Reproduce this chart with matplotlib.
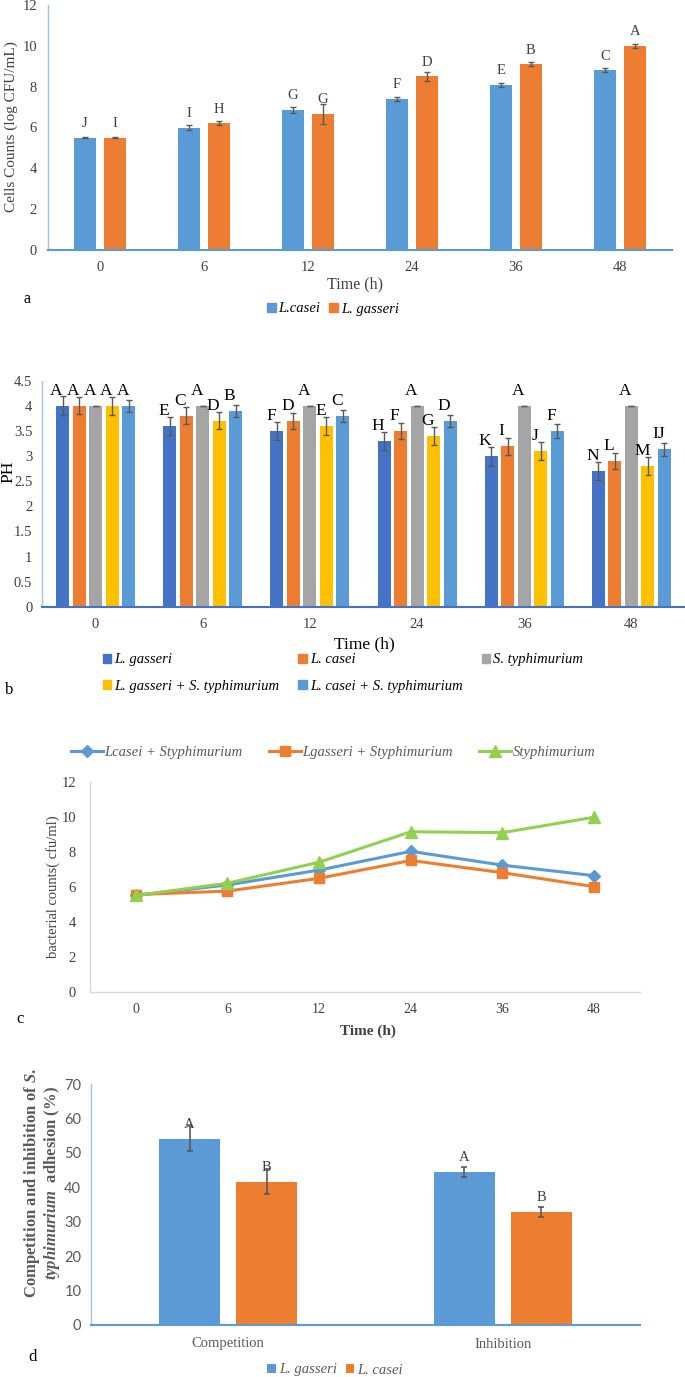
import numpy as np
import matplotlib
matplotlib.use('Agg')
from matplotlib import pyplot as plt
from matplotlib.patches import Patch

plt.rcParams['font.family'] = ['Liberation Serif', 'DejaVu Serif']
plt.rcParams['mathtext.fontset'] = 'custom'
plt.rcParams['mathtext.it'] = 'Liberation Serif:italic:bold'
plt.rcParams['mathtext.rm'] = 'Liberation Serif:bold'

#--- panel a data (cell counts, log CFU/mL)
times = ['0', '6', '12', '24', '36', '48']
casei_a = [5.5, 6.0, 6.87, 7.4, 8.1, 8.8]
casei_a_err = [0.02, 0.1, 0.15, 0.1, 0.1, 0.1]
casei_a_lab = ['J', 'I', 'G', 'F', 'E', 'C']
gasseri_a = [5.5, 6.2, 6.67, 8.5, 9.1, 10.0]
gasseri_a_err = [0.02, 0.1, 0.5, 0.2, 0.1, 0.1]
gasseri_a_lab = ['I', 'H', 'G', 'D', 'B', 'A']

#--- panel b data (pH)
ph_names = ['L. gasseri', 'L. casei', 'S. typhimurium',
            'L. gasseri + S. typhimurium', 'L. casei + S. typhimurium']
ph_gasseri = [4.0, 3.6, 3.5, 3.3, 3.0, 2.7]
ph_casei = [4.0, 3.8, 3.7, 3.5, 3.2, 2.9]
ph_styph = [4.0, 4.0, 4.0, 4.0, 4.0, 4.0]
ph_gasseri_st = [4.0, 3.7, 3.6, 3.4, 3.1, 2.8]
ph_casei_st = [4.0, 3.9, 3.8, 3.7, 3.5, 3.14]
ph_gasseri_err = [0.19, 0.18, 0.18, 0.18, 0.19, 0.18]
ph_casei_err = [0.17, 0.17, 0.16, 0.16, 0.17, 0.16]
ph_styph_err = [0.0, 0.0, 0.0, 0.0, 0.0, 0.0]
ph_gasseri_st_err = [0.18, 0.17, 0.17, 0.17, 0.18, 0.18]
ph_casei_st_err = [0.12, 0.12, 0.12, 0.12, 0.13, 0.13]
ph_gasseri_lab = ['A', 'E', 'F', 'H', 'K', 'N']
ph_casei_lab = ['A', 'C', 'D', 'F', 'I', 'L']
ph_styph_lab = ['A', 'A', 'A', 'A', 'A', 'A']
ph_gasseri_st_lab = ['A', 'D', 'E', 'G', 'J', 'M']
ph_casei_st_lab = ['A', 'B', 'C', 'D', 'F', 'IJ']

#--- panel c data (bacterial counts)
c_casei_st = [5.5, 6.1, 6.95, 8.02, 7.23, 6.63]
c_gasseri_st = [5.55, 5.75, 6.48, 7.5, 6.8, 6.0]
c_styph = [5.5, 6.2, 7.4, 9.14, 9.09, 9.97]

#--- panel d data (competition / inhibition %)
d_groups = ['Competition', 'Inhibition']
d_gasseri = [54.1, 44.5]
d_gasseri_err = [3.7, 1.45]
d_gasseri_lab = ['A', 'A']
d_casei = [41.6, 32.9]
d_casei_err = [3.6, 1.45]
d_casei_lab = ['B', 'B']

BLUE = '#5B9BD5'
ORANGE = '#ED7D31'
DBLUE = '#4472C4'
GRAY = '#A5A5A5'
YELLOW = '#FFC000'
GREEN = '#92D050'
ERR = '#595959'
TXT = '#404040'

W, H = 685, 1377
fig = plt.figure(figsize=(W/100, H/100), dpi=100)


def px_axes(l, t, r, b):
    return fig.add_axes([l/W, 1 - b/H, (r - l)/W, (b - t)/H])


def ftext(x, y, s, **kw):
    fig.text(x/W, 1 - y/H, s, **kw)


def style_axes(ax, left_col, bottom_col, lw=1.5):
    ax.spines['top'].set_visible(False)
    ax.spines['right'].set_visible(False)
    ax.spines['left'].set_color(left_col)
    ax.spines['bottom'].set_color(bottom_col)
    ax.spines['left'].set_linewidth(1.0)
    ax.spines['bottom'].set_linewidth(lw)
    ax.tick_params(length=0)


def letters(ax, xs, ys, labs, dx=0, dy=14, size=10.5, color=TXT):
    for x, y, s in zip(xs, ys, labs):
        ax.annotate(s, (x, y), xytext=(dx, dy), textcoords='offset pixels',
                    ha='center', va='center', fontsize=size, color=color)


x = np.arange(len(times))

#=========== panel a
ax = px_axes(48, 5, 672, 250)
w = 0.22
off = 0.144
ax.bar(x - off, casei_a, w, color=BLUE, yerr=casei_a_err, capsize=2.5,
       error_kw=dict(ecolor=ERR, elinewidth=1, capthick=1))
ax.bar(x + off, gasseri_a, w, color=ORANGE, yerr=gasseri_a_err, capsize=2.5,
       error_kw=dict(ecolor=ERR, elinewidth=1, capthick=1))
letters(ax, x - off, casei_a, casei_a_lab)
letters(ax, x + off, gasseri_a, gasseri_a_lab)
ax.set_xlim(-0.5, 5.5)
ax.set_ylim(0, 12)
ax.set_yticks(np.arange(0, 13, 2))
ax.set_xticks(x, times)
style_axes(ax, '#9DC3E6', BLUE)
ax.tick_params(axis='y', pad=8, labelsize=10.5, labelcolor=TXT)
ax.tick_params(axis='x', pad=8, labelsize=10.5, labelcolor=TXT)
ftext(11, 127, 'Cells Counts (log CFU/mL)', rotation=90, ha='center',
      va='center', fontsize=11, color=TXT)
ftext(355, 284, 'Time (h)', ha='center', va='center', fontsize=11.5, color=TXT)
ftext(27, 299, 'a', ha='center', va='center', fontsize=11.5)
fig.legend([Patch(color=BLUE), Patch(color=ORANGE)], ['L.casei', 'L. gasseri'],
           loc='center', bbox_to_anchor=(333/W, 1 - 309/H), ncol=2, frameon=False,
           handlelength=0.6, handleheight=0.6, handletextpad=0.2, columnspacing=0.6,
           prop=dict(style='italic', size=10.5))

#=========== panel b
ax = px_axes(42, 380.8, 685, 606.7)
series_b = [ph_gasseri, ph_casei, ph_styph, ph_gasseri_st, ph_casei_st]
errs_b = [ph_gasseri_err, ph_casei_err, ph_styph_err, ph_gasseri_st_err, ph_casei_st_err]
labs_b = [ph_gasseri_lab, ph_casei_lab, ph_styph_lab, ph_gasseri_st_lab, ph_casei_st_lab]
cols_b = [DBLUE, ORANGE, GRAY, YELLOW, BLUE]
pitch = 0.154
handles_b = []
for i in range(5):
    xs = x + (i - 2)*pitch
    ax.bar(xs, series_b[i], 0.121, color=cols_b[i], yerr=errs_b[i], capsize=2.5,
           error_kw=dict(ecolor=ERR, elinewidth=1, capthick=1))
    letters(ax, xs, series_b[i], labs_b[i], dx=-6, dy=15, size=12.5, color='black')
    handles_b.append(Patch(color=cols_b[i]))
ax.set_xlim(-0.5, 5.5)
ax.set_ylim(0, 4.5)
ax.set_yticks(np.arange(0, 4.6, 0.5), ['0', '0.5', '1', '1.5', '2', '2.5', '3', '3.5', '4', '4.5'])
ax.set_xticks(x, times)
style_axes(ax, '#9DC3E6', DBLUE)
ax.tick_params(axis='y', pad=7, labelsize=10.5, labelcolor=TXT)
ax.tick_params(axis='x', pad=8, labelsize=10.5, labelcolor=TXT)
ftext(8, 472, 'PH', rotation=90, ha='center', va='center', fontsize=12.5)
ftext(364, 644, 'Time (h)', ha='center', va='center', fontsize=12.5)
ftext(9, 690, 'b', ha='center', va='center', fontsize=12)
order = [0, 3, 1, 4, 2]
fig.legend([handles_b[k] for k in order], [ph_names[k] for k in order],
           loc='center', bbox_to_anchor=(343/W, 1 - 673/H), ncol=3, frameon=False,
           handlelength=0.6, handleheight=0.6, handletextpad=0.2, columnspacing=1.3,
           labelspacing=0.9, prop=dict(style='italic', size=10.5))

#=========== panel c
ax = px_axes(90, 781.7, 640, 991.7)
ax.plot(x, c_casei_st, color=BLUE, lw=2.2, marker='D', ms=6, label='Lcasei + Styphimurium')
ax.plot(x, c_gasseri_st, color=ORANGE, lw=2.2, marker='s', ms=7, label='Lgasseri + Styphimurium')
ax.plot(x, c_styph, color=GREEN, lw=2.2, marker='^', ms=8, label='Styphimurium')
ax.set_xlim(-0.5, 5.5)
ax.set_ylim(0, 12)
ax.set_yticks(np.arange(0, 13, 2))
ax.set_xticks(x, times)
style_axes(ax, '#D9D9D9', '#D9D9D9', lw=1.0)
ax.tick_params(axis='y', pad=10, labelsize=10.5, labelcolor=TXT)
ax.tick_params(axis='x', pad=8, labelsize=10, labelcolor=TXT)
ftext(53, 887, 'bacterial counts( cfu/ml)', rotation=90, ha='center', va='center',
      fontsize=10.5, color=TXT)
ftext(368, 1031, 'Time (h)', ha='center', va='center', fontsize=11, weight='bold', color=TXT)
ftext(20, 1019, 'c', ha='center', va='center', fontsize=12)
fig.legend(*ax.get_legend_handles_labels(), loc='center',
           bbox_to_anchor=(333/W, 1 - 752/H), ncol=3, frameon=False,
           handlelength=2.2, handletextpad=0.1, columnspacing=1.8,
           prop=dict(style='italic', size=10.5), labelcolor='#595959')

#=========== panel d
ax = px_axes(91, 1084, 640, 1325)
xd = np.arange(len(d_groups))
ax.bar(xd - 0.141, d_gasseri, 0.222, color=BLUE, yerr=d_gasseri_err, capsize=2.5,
       error_kw=dict(ecolor=ERR, elinewidth=1.2, capthick=1.2), label='L. gasseri')
ax.bar(xd + 0.141, d_casei, 0.222, color=ORANGE, yerr=d_casei_err, capsize=2.5,
       error_kw=dict(ecolor=ERR, elinewidth=1.2, capthick=1.2), label='L. casei')
letters(ax, xd - 0.141, d_gasseri, d_gasseri_lab)
letters(ax, xd + 0.141, d_casei, d_casei_lab)
ax.set_xlim(-0.5, 1.5)
ax.set_ylim(0, 70)
ax.set_yticks(np.arange(0, 71, 10))
ax.set_xticks(xd, d_groups)
style_axes(ax, '#9DC3E6', BLUE)
ax.tick_params(axis='y', pad=7, labelsize=10.5, labelcolor='#595959')
for t in ax.get_yticklabels():
    t.set_fontfamily('Lato')
ax.tick_params(axis='x', pad=9, labelsize=10.5, labelcolor='#595959')
ftext(42, 1183, 'Competition and inhibition of $\\mathit{S.}$\n'
      '$\\mathit{typhimurium}$  adhesion (%)', rotation=90, ha='center',
      va='center', multialignment='center', linespacing=1.0,
      fontsize=12, weight='bold', color='#595959')
ftext(33, 1357, 'd', ha='center', va='center', fontsize=12)
fig.legend(*ax.get_legend_handles_labels(), loc='center',
           bbox_to_anchor=(335/W, 1 - 1370/H), ncol=2, frameon=False,
           handlelength=0.6, handleheight=0.6, handletextpad=0.2, columnspacing=0.6,
           prop=dict(style='italic', size=10.5), labelcolor='#595959')

fig.savefig('out.png', dpi=100)
